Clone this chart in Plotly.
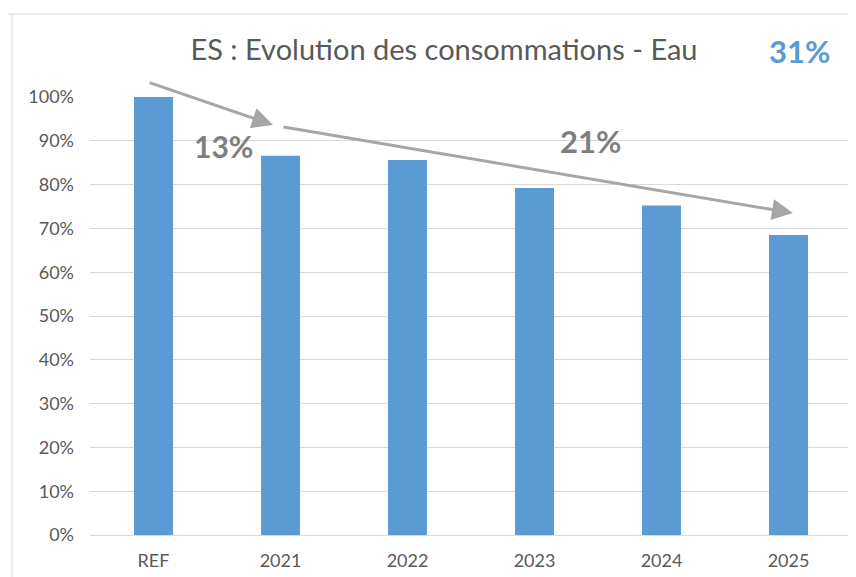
import plotly.graph_objects as go

categories = ["REF", "2021", "2022", "2023", "2024", "2025"]
values = [100.0, 86.6, 85.6, 79.2, 75.2, 68.5]
y_ticks = [0, 10, 20, 30, 40, 50, 60, 70, 80, 90, 100]
y_tick_labels = [f"{v}%" for v in y_ticks]

title_text = "ES : Evolution des consommations - Eau"
total_drop = "31%"
drop_2021 = "13%"
drop_after = "21%"

FONT = "Lato, Noto Sans, sans-serif"
GRAY_TXT = "#595959"
ARROW_GRAY = "#A6A6A6"
BLUE = "#5B9BD5"

# plot area in figure pixels
L, R, T, B = 82, 12, 89, 50
PW = 856 - L - R
PH = 577 - T - B

def px(xf):
    return (xf - L) / PW

def py(yf):
    return (577 - B - yf) / PH

fig = go.Figure()
fig.add_trace(go.Bar(
    x=list(range(len(categories))), y=values,
    marker=dict(color=BLUE, line=dict(width=0)),
    hoverinfo="skip",
))

fig.update_layout(
    width=856, height=577,
    margin=dict(l=L, r=R, t=T, b=B),
    paper_bgcolor="white", plot_bgcolor="white",
    showlegend=False,
    bargap=0.693,
    font=dict(family=FONT, color=GRAY_TXT),
    title=dict(text=title_text, x=436/856, xanchor="center", xref="container",
               y=1-42/577, yanchor="middle", yref="container",
               font=dict(family=FONT, size=29, color=GRAY_TXT)),
    xaxis=dict(
        range=[-0.5, 5.5], tickmode="array",
        tickvals=list(range(len(categories))), ticktext=categories,
        showgrid=False, zeroline=False, showline=False, ticks="",
        tickfont=dict(size=18, color=GRAY_TXT), ticklabelstandoff=13,
    ),
    yaxis=dict(
        range=[0, 100], tickmode="array", tickvals=y_ticks, ticktext=y_tick_labels,
        showgrid=True, gridcolor="#D9D9D9", gridwidth=1,
        zeroline=True, zerolinecolor="#D9D9D9", zerolinewidth=1,
        showline=False, ticks="",
        tickfont=dict(size=18, color=GRAY_TXT), ticklabelstandoff=15,
    ),
)

# arrows
fig.add_annotation(x=0.941, y=93.6, ax=-0.043, ay=103.4, xref="x", yref="y",
                   axref="x", ayref="y", showarrow=True, arrowhead=2,
                   arrowsize=1.4, arrowwidth=3, arrowcolor=ARROW_GRAY, text="")
fig.add_annotation(x=5.035, y=73.5, ax=1.012, ay=93.2, xref="x", yref="y",
                   axref="x", ayref="y", showarrow=True, arrowhead=2,
                   arrowsize=1.4, arrowwidth=3, arrowcolor=ARROW_GRAY, text="")

# labels
fig.add_annotation(x=0.555, y=88.8, xref="x", yref="y", text=f"<b>{drop_2021}</b>",
                   xanchor="center", yanchor="middle",
                   showarrow=False, font=dict(family=FONT, size=30, color="#7F7F7F"))
fig.add_annotation(x=3.44, y=89.9, xref="x", yref="y", text=f"<b>{drop_after}</b>",
                   xanchor="center", yanchor="middle",
                   showarrow=False, font=dict(family=FONT, size=31, color="#7F7F7F"))
fig.add_annotation(x=px(791), y=py(43), xref="paper", yref="paper",
                   xanchor="center", yanchor="middle",
                   text=f"<b>{total_drop}</b>", showarrow=False,
                   font=dict(family=FONT, size=31, color=BLUE))

# frame lines (screenshot border)
fig.add_shape(type="line", xref="paper", yref="paper",
              x0=px(-10), x1=px(860), y0=py(6), y1=py(6),
              line=dict(color="#D9D9D9", width=1))
fig.add_shape(type="line", xref="paper", yref="paper",
              x0=px(4), x1=px(4), y0=py(6), y1=py(580),
              line=dict(color="#D9D9D9", width=1))

fig.write_html("out.html")
